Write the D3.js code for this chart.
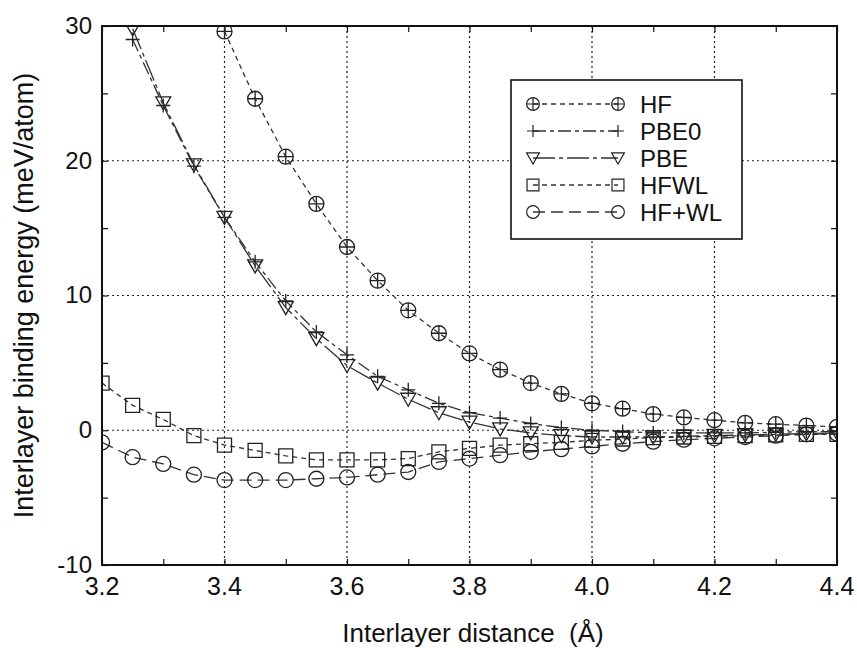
<!DOCTYPE html>
<html>
<head>
<meta charset="utf-8">
<script src="https://cdn.jsdelivr.net/npm/d3@7"></script>
<style>
  body { margin: 0; background: #fff; }
  text { font-family: "Liberation Sans", Arial, sans-serif; fill: #111; }
</style>
</head>
<body>
<div id="chart"></div>
<script>
// interlayer distance (Angstrom), one point every 0.05
var distances = [3.20, 3.25, 3.30, 3.35, 3.40, 3.45, 3.50, 3.55, 3.60, 3.65, 3.70, 3.75, 3.80,
                 3.85, 3.90, 3.95, 4.00, 4.05, 4.10, 4.15, 4.20, 4.25, 4.30, 4.35, 4.40];

// binding energies, meV/atom
var hf     = [null, null, null, null, 29.6, 24.6, 20.3, 16.8, 13.6, 11.1, 8.9, 7.2, 5.7,
              4.5, 3.5, 2.7, 2.0, 1.6, 1.2, 0.95, 0.75, 0.55, 0.45, 0.35, 0.25];
var pbe0   = [null, 29.0, 24.1, 19.6, 15.8, 12.5, 9.6, 7.3, 5.6, 4.0, 3.0, 2.0, 1.3,
              0.9, 0.5, 0.2, 0.0, -0.1, -0.2, -0.2, -0.2, -0.2, -0.15, -0.1, -0.1];
var pbe    = [null, 29.8, 24.3, 19.7, 15.8, 12.2, 9.1, 6.8, 4.8, 3.5, 2.3, 1.3, 0.6,
              0.1, -0.2, -0.4, -0.5, -0.5, -0.5, -0.45, -0.4, -0.35, -0.3, -0.25, -0.2];
var hfwl   = [3.5, 1.85, 0.8, -0.4, -1.1, -1.5, -1.9, -2.2, -2.2, -2.2, -2.1, -1.6, -1.35,
              -1.1, -1.0, -0.9, -0.75, -0.65, -0.55, -0.5, -0.45, -0.4, -0.35, -0.3, -0.3];
var hfPlusWl = [-0.9, -2.0, -2.5, -3.3, -3.7, -3.7, -3.7, -3.6, -3.5, -3.3, -3.1, -2.35, -2.1,
              -1.85, -1.6, -1.4, -1.2, -1.0, -0.85, -0.7, -0.6, -0.5, -0.4, -0.3, -0.25];

var seriesNames = ["HF", "PBE0", "PBE", "HFWL", "HF+WL"];
var xTicks = [3.2, 3.4, 3.6, 3.8, 4.0, 4.2, 4.4];
var yTicks = [-10, 0, 10, 20, 30];

var width = 857, height = 648;
var margin = {top: 26, right: 20, bottom: 83, left: 102};
var chartWidth = width - margin.left - margin.right;
var chartHeight = height - margin.top - margin.bottom;

var series = [
  {name: seriesNames[0], values: hf,       marker: "ocross",  dash: "5,4"},
  {name: seriesNames[1], values: pbe0,     marker: "plus",    dash: "13,4,4,4"},
  {name: seriesNames[2], values: pbe,      marker: "tri",     dash: "22,4,4,4"},
  {name: seriesNames[3], values: hfwl,     marker: "square",  dash: "5,4"},
  {name: seriesNames[4], values: hfPlusWl, marker: "circle",  dash: "12,6"}
];

var svg = d3.select("#chart").append("svg")
    .attr("width", width)
    .attr("height", height);

var xScale = d3.scaleLinear().domain([3.2, 4.4]).range([0, chartWidth]);
var yScale = d3.scaleLinear().domain([-10, 30]).range([chartHeight, 0]);

var viz = svg.append("g")
    .attr("transform", "translate(" + margin.left + "," + margin.top + ")");

viz.append("defs").append("clipPath").attr("id", "plotclip")
  .append("rect").attr("width", chartWidth).attr("height", chartHeight);

// dotted grid
var grid = viz.append("g").attr("stroke", "#222").attr("stroke-width", 1.2)
    .attr("stroke-dasharray", "2,3");
grid.selectAll(".gx").data(xTicks.slice(1, -1)).enter().append("line")
    .attr("x1", d => xScale(d)).attr("x2", d => xScale(d))
    .attr("y1", 0).attr("y2", chartHeight);
grid.selectAll(".gy").data(yTicks.slice(1, -1)).enter().append("line")
    .attr("y1", d => yScale(d)).attr("y2", d => yScale(d))
    .attr("x1", 0).attr("x2", chartWidth);

// inward ticks on all four sides
function tickOnly(g, axis) {
  g.call(axis);
  g.select(".domain").remove();
  g.selectAll(".tick line").attr("stroke", "#111").attr("stroke-width", 1.2);
  g.selectAll(".tick text").remove();
}
var xMinor = d3.range(32, 45).map(d => d / 10);
var yMinor = [-10, -5, 0, 5, 10, 15, 20, 25, 30];
viz.append("g").attr("transform", "translate(0," + chartHeight + ")")
   .call(tickOnly, d3.axisBottom(xScale).tickValues(xMinor).tickSizeInner(-6).tickSizeOuter(0));
viz.append("g")
   .call(tickOnly, d3.axisTop(xScale).tickValues(xMinor).tickSizeInner(-6).tickSizeOuter(0));
viz.append("g")
   .call(tickOnly, d3.axisLeft(yScale).tickValues(yMinor).tickSizeInner(-6).tickSizeOuter(0));
viz.append("g").attr("transform", "translate(" + chartWidth + ",0)")
   .call(tickOnly, d3.axisRight(yScale).tickValues(yMinor).tickSizeInner(-6).tickSizeOuter(0));

// tick labels
viz.selectAll(".xl").data(xTicks).enter().append("text")
    .attr("x", d => xScale(d)).attr("y", chartHeight + 30)
    .attr("text-anchor", "middle").attr("font-size", "25px")
    .text(d => d.toFixed(1));
viz.selectAll(".yl").data(yTicks).enter().append("text")
    .attr("x", -10).attr("y", d => yScale(d)).attr("dy", "0.33em")
    .attr("text-anchor", "end").attr("font-size", "24px")
    .text(d => d);

// markers
function markerPath(type) {
  var r = 7.5;
  if (type === "ocross") return "M" + (-r) + ",0A" + r + "," + r + " 0 1,0 " + r + ",0A" + r + "," + r + " 0 1,0 " + (-r) + ",0"
      + "M" + (-r) + ",0H" + r + "M0," + (-r) + "V" + r;
  if (type === "circle") return "M" + (-r) + ",0A" + r + "," + r + " 0 1,0 " + r + ",0A" + r + "," + r + " 0 1,0 " + (-r) + ",0";
  if (type === "plus") return "M-7,0H7M0,-7V7";
  if (type === "tri") return "M-7.5,-6H7.5L0,7Z";
  if (type === "square") return "M-7,-7H7V7H-7Z";
}

var line = d3.line()
    .defined(d => d.v !== null)
    .x(d => xScale(d.x))
    .y(d => yScale(d.v));

var plot = viz.append("g").attr("clip-path", "url(#plotclip)");
series.forEach(function (s) {
  var pts = distances.map((x, i) => ({x: x, v: s.values[i]}));
  plot.append("path").datum(pts)
      .attr("d", line)
      .attr("fill", "none").attr("stroke", "#333").attr("stroke-width", 1.3)
      .attr("stroke-dasharray", s.dash);
  plot.selectAll(null).data(pts.filter(d => d.v !== null)).enter().append("path")
      .attr("transform", d => "translate(" + xScale(d.x) + "," + yScale(d.v) + ")")
      .attr("d", markerPath(s.marker))
      .attr("fill", "none").attr("stroke", "#222").attr("stroke-width", 1.3);
});

// frame
viz.append("rect").attr("width", chartWidth).attr("height", chartHeight)
   .attr("fill", "none").attr("stroke", "#111").attr("stroke-width", 2);

// legend
var legend = svg.append("g").attr("transform", "translate(511,80)");
legend.append("rect").attr("width", 231).attr("height", 159)
      .attr("fill", "#fff").attr("stroke", "#111").attr("stroke-width", 1.6);
series.forEach(function (s, i) {
  var cy = 24 + i * 27;
  legend.append("line").attr("x1", 22).attr("x2", 107).attr("y1", cy).attr("y2", cy)
        .attr("stroke", "#333").attr("stroke-width", 1.3).attr("stroke-dasharray", s.dash);
  [22, 107].forEach(function (mx) {
    legend.append("path").attr("transform", "translate(" + mx + "," + cy + ") scale(0.85)")
          .attr("d", markerPath(s.marker))
          .attr("fill", "none").attr("stroke", "#222").attr("stroke-width", 1.4);
  });
  legend.append("text").attr("x", 129).attr("y", cy + 9)
        .attr("font-size", "24px").text(s.name);
});

// axis titles
svg.append("text")
   .attr("transform", "translate(33," + (margin.top + chartHeight / 2) + ") rotate(-90)")
   .attr("text-anchor", "middle").attr("font-size", "27px")
   .text("Interlayer binding energy (meV/atom)");
svg.append("text")
   .attr("x", 473).attr("y", 642)
   .attr("text-anchor", "middle").attr("font-size", "26px")
   .style("white-space", "pre")
   .text("Interlayer distance  (\u00c5)");
</script>
</body>
</html>
